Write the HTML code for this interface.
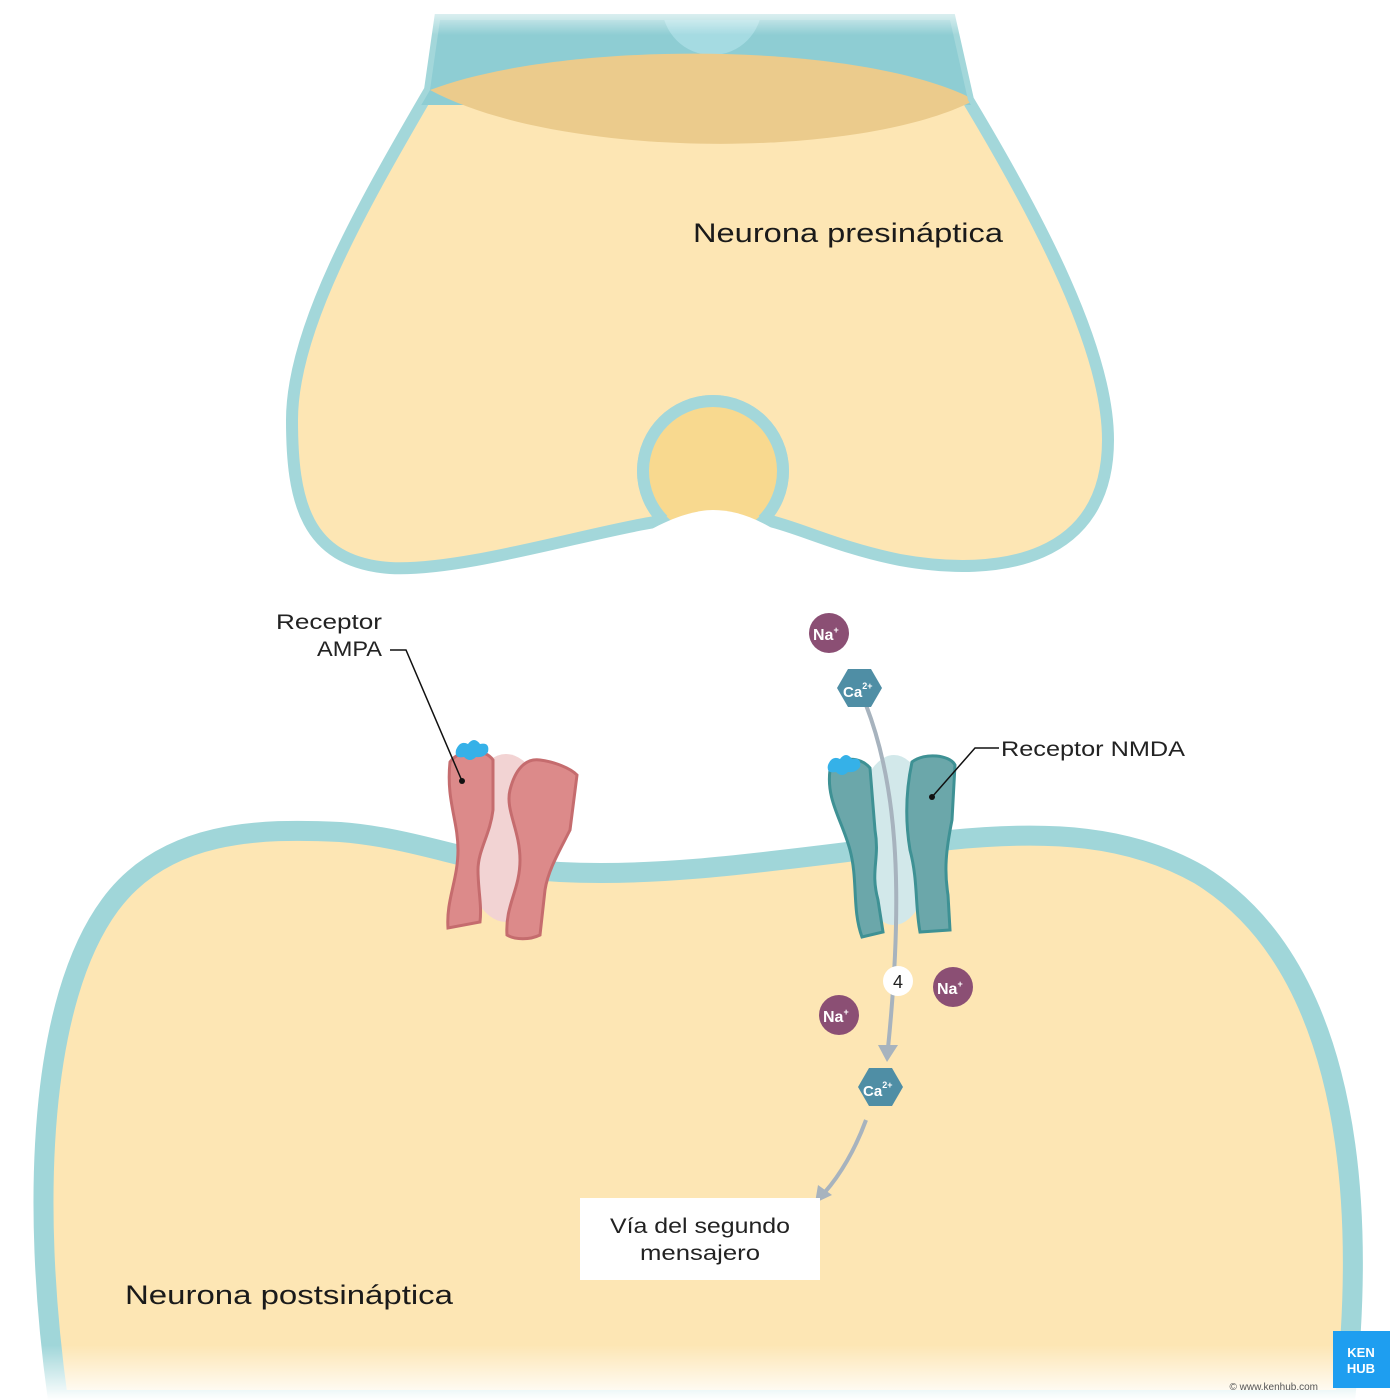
<!DOCTYPE html>
<html><head><meta charset="utf-8"><style>
html,body{margin:0;padding:0;background:#fff;}
svg{display:block;font-family:"Liberation Sans",sans-serif;}
</style></head><body>
<svg width="1400" height="1400" viewBox="0 0 1400 1400" xmlns="http://www.w3.org/2000/svg">
<defs>
<linearGradient id="fadeB" x1="0" y1="0" x2="0" y2="1"><stop offset="0" stop-color="#fff" stop-opacity="0"/><stop offset="1" stop-color="#fff" stop-opacity="1"/></linearGradient>
<linearGradient id="fadeT" x1="0" y1="0" x2="0" y2="1"><stop offset="0" stop-color="#fff" stop-opacity="1"/><stop offset="1" stop-color="#fff" stop-opacity="0"/></linearGradient>
<clipPath id="preclip"><path id="prep" d="M440,20 L950,20 L968,100 C1040,220 1108,350 1108,440 C1108,560 1000,578 900,560 C840,548 800,528 770,521 L763,520 A70,70 0 1 0 663,520 L655,522 C590,532 460,572 390,568 C305,562 292,500 292,420 C292,330 360,210 430,90 Z"/></clipPath>
</defs>
<rect width="1400" height="1400" fill="#fff"/>

<!-- presynaptic -->
<use href="#prep" fill="#fde6b4" stroke="#a3d7da" stroke-width="12"/>
<g clip-path="url(#preclip)">
<rect x="400" y="15" width="600" height="90" fill="#8ecdd3"/>
<circle cx="712" cy="5" r="50" fill="#a5dbe2"/>
<path d="M430,90 C560,40 860,40 975,100 C860,160 560,160 430,90 Z" fill="#ebcb8c"/>
</g>
<circle cx="713" cy="471" r="65" fill="#f8d98f"/>
<path d="M650,530 C675,516 698,510 713,510 C732,510 752,516 775,530 L775,545 L650,545 Z" fill="#fff"/>
<path d="M663,520 A70,70 0 1 1 763,520" fill="none" stroke="#a3d7da" stroke-width="12"/>
<rect x="400" y="0" width="600" height="35" fill="url(#fadeT)"/>
<text x="693" y="242" font-size="27" fill="#1a1a1a" textLength="310" lengthAdjust="spacingAndGlyphs">Neurona presináptica</text>

<!-- postsynaptic -->
<path d="M58,1400 C30,1200 40,1000 110,905 C165,830 260,828 340,832 C420,838 480,868 560,872 C680,878 800,856 950,840 C1050,830 1130,835 1200,875 C1330,955 1372,1150 1345,1400 Z" fill="#fde6b4" stroke="#a0d6d9" stroke-width="20"/>
<rect x="0" y="1345" width="1400" height="55" fill="url(#fadeB)"/>

<!-- AMPA -->
<ellipse cx="506" cy="838" rx="44" ry="84" fill="#f2d3d3"/>
<path d="M450,762 C460,748 485,748 493,760 L493,810 C490,835 478,850 478,870 C478,890 482,905 480,922 L448,928 C446,900 458,880 458,850 C458,820 446,800 450,762 Z" fill="#dc8a8a" stroke="#c56c6e" stroke-width="3"/>
<path d="M540,760 C555,762 570,768 577,775 L570,830 C560,850 548,870 545,890 L540,935 C530,940 515,940 507,935 C505,905 520,890 520,860 C520,830 505,810 510,790 C515,770 525,758 540,760 Z" fill="#dc8a8a" stroke="#c56c6e" stroke-width="3"/>
<path d="M456,750 q4,-10 12,-6 q6,-8 12,0 q10,-2 8,8 q-4,6 -12,5 q-6,6 -12,0 q-10,2 -8,-7z" fill="#35b1e8"/>

<!-- NMDA -->
<ellipse cx="894" cy="840" rx="40" ry="85" fill="#d2e8ea"/>
<path d="M830,770 C840,756 860,756 870,768 L875,830 C880,860 870,870 878,900 L883,932 L862,937 C852,910 858,880 850,850 C842,820 826,800 830,770 Z" fill="#6ba7aa" stroke="#3e9194" stroke-width="3"/>
<path d="M912,762 C925,752 950,755 955,765 L952,820 C946,850 944,870 948,895 L950,930 L920,932 C915,905 918,880 910,850 C905,820 906,790 912,762 Z" fill="#6ba7aa" stroke="#3e9194" stroke-width="3"/>
<path d="M828,765 q4,-10 12,-6 q6,-8 12,0 q10,-2 8,8 q-4,6 -12,5 q-6,6 -12,0 q-10,2 -8,-7z" fill="#35b1e8"/>

<!-- arrows -->
<path d="M866,705 C895,780 905,880 888,1048" fill="none" stroke="#a7b3be" stroke-width="4"/>
<path d="M878,1045 L898,1045 L887,1062 Z" fill="#a7b3be"/>
<path d="M866,1120 C855,1150 840,1175 825,1192" fill="none" stroke="#a7b3be" stroke-width="4"/>
<path d="M818,1185 L832,1195 L815,1203 Z" fill="#a7b3be"/>

<!-- ions -->
<g font-weight="bold" fill="#fff">
<circle cx="829" cy="633" r="20" fill="#8b4f74"/><text x="813" y="640" font-size="16" fill="#fff">Na<tspan font-size="9" dy="-7">+</tspan></text>
<circle cx="953" cy="987" r="20" fill="#8b4f74"/><text x="937" y="994" font-size="16" fill="#fff">Na<tspan font-size="9" dy="-7">+</tspan></text>
<circle cx="839" cy="1015" r="20" fill="#8b4f74"/><text x="823" y="1022" font-size="16" fill="#fff">Na<tspan font-size="9" dy="-7">+</tspan></text>
<polygon points="837,688 848,669 871,669 882,688 871,707 848,707" fill="#4f8ea5"/><text x="843" y="697" font-size="15" fill="#fff">Ca<tspan font-size="9" dy="-8">2+</tspan></text>
<polygon points="858,1087 869,1068 892,1068 903,1087 892,1106 869,1106" fill="#4f8ea5"/><text x="863" y="1096" font-size="15" fill="#fff">Ca<tspan font-size="9" dy="-8">2+</tspan></text>
</g>
<circle cx="898" cy="981" r="15" fill="#fff"/><text x="898" y="988" font-size="18" text-anchor="middle" fill="#222">4</text>

<!-- labels -->
<text x="276" y="629" font-size="21" fill="#222" textLength="106" lengthAdjust="spacingAndGlyphs">Receptor</text>
<text x="317" y="656" font-size="21" fill="#222" textLength="65" lengthAdjust="spacingAndGlyphs">AMPA</text>
<path d="M390,650 L406,650 L462,781" fill="none" stroke="#111" stroke-width="1.5"/><circle cx="462" cy="781" r="3" fill="#111"/>
<text x="1001" y="756" font-size="21" fill="#222" textLength="184" lengthAdjust="spacingAndGlyphs">Receptor NMDA</text>
<path d="M999,748 L975,748 L932,797" fill="none" stroke="#111" stroke-width="1.5"/><circle cx="932" cy="797" r="3" fill="#111"/>

<rect x="580" y="1198" width="240" height="82" fill="#fff"/>
<text x="610" y="1233" font-size="21" fill="#222" textLength="180" lengthAdjust="spacingAndGlyphs">Vía del segundo</text>
<text x="640" y="1260" font-size="21" fill="#222" textLength="120" lengthAdjust="spacingAndGlyphs">mensajero</text>

<text x="125" y="1304" font-size="27" fill="#1a1a1a" textLength="328" lengthAdjust="spacingAndGlyphs">Neurona postsináptica</text>

<rect x="1333" y="1331" width="57" height="57" fill="#1e9ef0"/>
<text x="1361" y="1357" font-size="13" font-weight="bold" text-anchor="middle" fill="#fff">KEN</text>
<text x="1361" y="1373" font-size="13" font-weight="bold" text-anchor="middle" fill="#fff">HUB</text>
<text x="1318" y="1390" font-size="10" text-anchor="end" fill="#555">© www.kenhub.com</text>
</svg>
</body></html>
